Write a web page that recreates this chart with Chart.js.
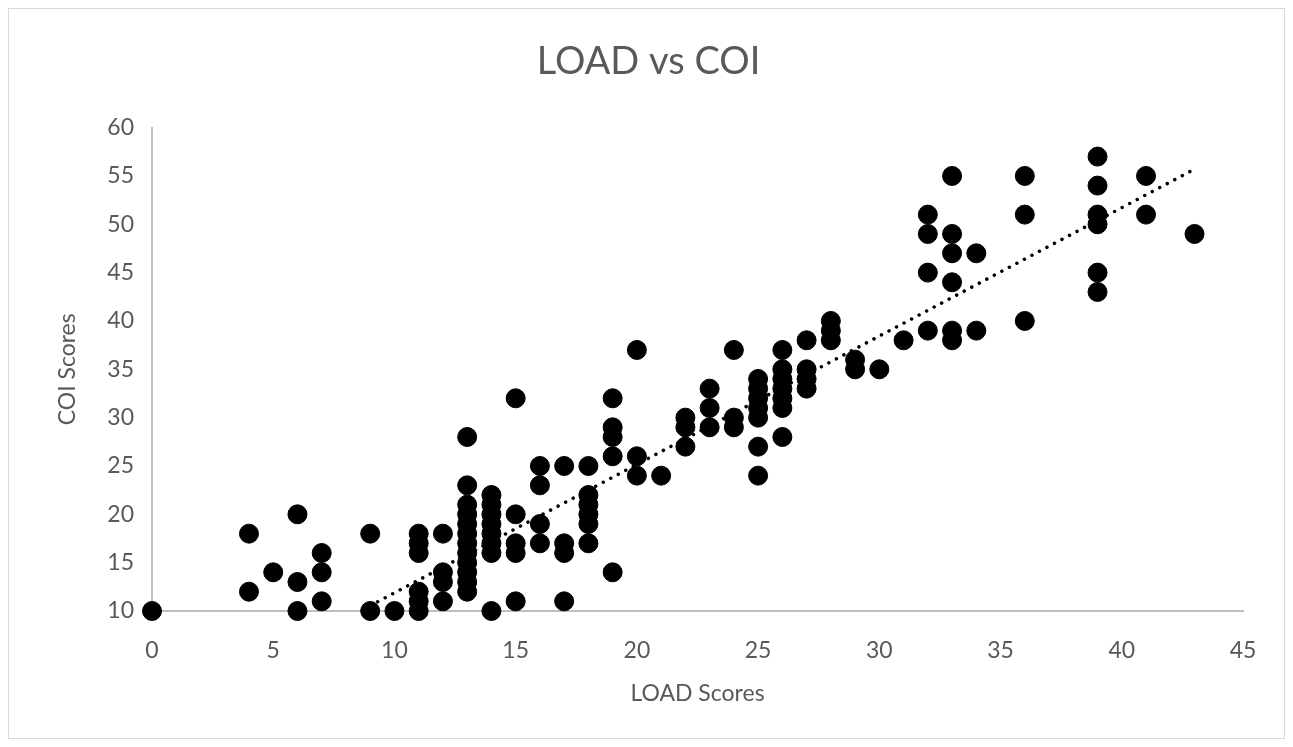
<!DOCTYPE html>
<html>
<head>
<meta charset="utf-8">
<script src="https://cdn.jsdelivr.net/npm/chart.js@4"></script>
<style>
    html, body { margin: 0; padding: 0; background: #fff; }
    #wrap { width: 1293px; height: 747px; position: relative; }
</style>
</head>
<body>
<div id="wrap"><canvas id="chart" width="1293" height="747"></canvas></div>
<script>
// LOAD score (x) and COI score (y), one pair per respondent
const loadScores = [
    0,
    4, 4,
    5,
    6, 6, 6,
    7, 7, 7,
    9, 9,
    10,
    11, 11, 11, 11, 11, 11,
    12, 12, 12, 12,
    13, 13, 13, 13, 13, 13, 13, 13, 13, 13, 13, 13,
    14, 14, 14, 14, 14, 14, 14, 14,
    15, 15, 15, 15, 15,
    16, 16, 16, 16,
    17, 17, 17, 17,
    18, 18, 18, 18, 18, 18,
    19, 19, 19, 19, 19,
    20, 20, 20,
    21,
    22, 22, 22,
    23, 23, 23,
    24, 24, 24,
    25, 25, 25, 25, 25, 25, 25,
    26, 26, 26, 26, 26, 26, 26,
    27, 27, 27, 27,
    28, 28, 28,
    29, 29,
    30,
    31,
    32, 32, 32, 32,
    33, 33, 33, 33, 33, 33,
    34, 34,
    36, 36, 36,
    39, 39, 39, 39, 39, 39,
    41, 41,
    43
];
const coiScores = [
    10,
    18, 12,
    14,
    20, 13, 10,
    16, 14, 11,
    18, 10,
    10,
    18, 17, 16, 12, 11, 10,
    18, 14, 13, 11,
    28, 23, 21, 20, 19, 18, 17, 16, 15, 14, 13, 12,
    22, 21, 20, 19, 18, 17, 16, 10,
    32, 20, 17, 16, 11,
    25, 23, 19, 17,
    25, 17, 16, 11,
    25, 22, 21, 20, 19, 17,
    32, 29, 28, 26, 14,
    37, 26, 24,
    24,
    30, 29, 27,
    33, 31, 29,
    37, 30, 29,
    34, 33, 32, 31, 30, 27, 24,
    37, 35, 34, 33, 32, 31, 28,
    38, 35, 34, 33,
    40, 39, 38,
    36, 35,
    35,
    38,
    51, 49, 45, 39,
    55, 49, 47, 44, 39, 38,
    47, 39,
    55, 51, 40,
    57, 54, 51, 50, 45, 43,
    55, 51,
    49
];
// linear trendline, end values
const trendX = [0, 43];
const trendY = [-1.4, 55.7];

const xTicks = [0, 5, 10, 15, 20, 25, 30, 35, 40, 45];
const yTicks = [10, 15, 20, 25, 30, 35, 40, 45, 50, 55, 60];

const points = loadScores.map((x, i) => ({ x: x, y: coiScores[i] }));
const trend = trendX.map((x, i) => ({ x: x, y: trendY[i] }));

const frame = {
    id: "frame",
    beforeDraw(chart) {
        const c = chart.ctx;
        c.save();
        c.fillStyle = "#fff";
        c.fillRect(0, 0, chart.width, chart.height);
        c.strokeStyle = "#d9d9d9";
        c.lineWidth = 1;
        c.strokeRect(8.5, 8.5, chart.width - 17, chart.height - 17);
        c.restore();
    }
};

const grey = "#595959";
const font = "Lato, 'Open Sans', sans-serif";

new Chart(document.getElementById("chart").getContext("2d"), {
    type: "scatter",
    data: {
        datasets: [{
            data: points,
            backgroundColor: "#000",
            borderColor: "#000",
            pointRadius: 9.5,
            pointHoverRadius: 9.5,
            clip: false,
        }, {
            type: "line",
            data: trend,
            borderColor: "#000",
            borderWidth: 3.5,
            borderDash: [0.01, 8.5],
            borderCapStyle: "round",
            pointRadius: 0,
            fill: false,
            clip: 0,
        }],
    },
    plugins: [frame],
    options: {
        responsive: false,
        animation: false,
        layout: { padding: { left: 54, right: 50, top: 20, bottom: 40 } },
        plugins: {
            legend: { display: false },
            tooltip: { enabled: false },
            title: {
                display: true,
                text: "LOAD vs COI",
                color: grey,
                font: { family: font, size: 38, weight: "normal" },
                padding: { top: 19, bottom: 43 },
            },
        },
        scales: {
            x: {
                type: "linear",
                min: 0,
                max: 45,
                afterBuildTicks: s => { s.ticks = xTicks.map(v => ({ value: v })); },
                grid: { display: false, drawTicks: false },
                border: { display: true, color: "#bfbfbf", width: 2 },
                ticks: { color: grey, font: { family: font, size: 23 }, padding: 26 },
                title: {
                    display: true,
                    text: "LOAD Scores",
                    color: grey,
                    font: { family: font, size: 23 },
                    padding: { top: 10, bottom: 0 },
                },
                afterFit: s => { s.height = 96; },
            },
            y: {
                type: "linear",
                min: 10,
                max: 60,
                afterBuildTicks: s => { s.ticks = yTicks.map(v => ({ value: v })); },
                grid: { display: false, drawTicks: false },
                border: { display: true, color: "#bfbfbf", width: 2 },
                ticks: { color: grey, font: { family: font, size: 23 }, padding: 18 },
                title: {
                    display: true,
                    text: "COI Scores",
                    color: grey,
                    font: { family: font, size: 23 },
                    padding: { top: 0, bottom: 10 },
                },
                afterFit: s => { s.width = 98; },
            },
        },
    },
});
</script>
</body>
</html>
